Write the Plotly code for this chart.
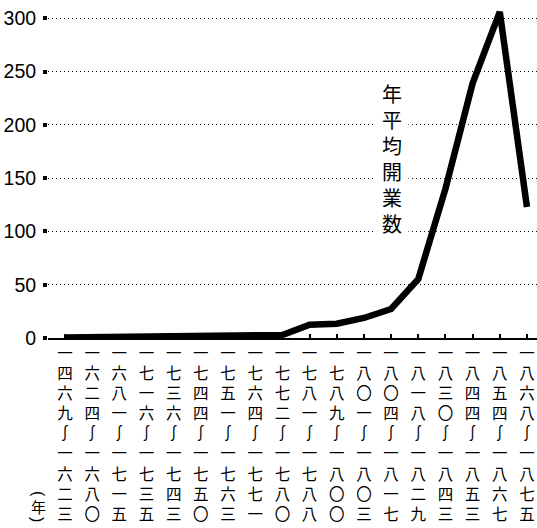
import plotly.graph_objects as go

start_years = ["一四六九", "一六二四", "一六八一", "一七一六", "一七三六", "一七四四",
               "一七五一", "一七六四", "一七七二", "一七八一", "一七八九", "一八〇一",
               "一八〇四", "一八一八", "一八三〇", "一八四四", "一八五四", "一八六八"]
end_years = ["一六二三", "一六八〇", "一七一五", "一七三五", "一七四三", "一七五〇",
             "一七六三", "一七七一", "一七八〇", "一七八八", "一八〇〇", "一八〇三",
             "一八一七", "一八二九", "一八四三", "一八五三", "一八六七", "一八七五"]
avg_openings = [0.5, 0.8, 1, 1, 1.8, 2, 2.7, 3.5, 2.8, 12.5, 13.4, 18.8, 27.2, 55.3,
                140, 239, 306, 123]
y_ticks = [0, 50, 100, 150, 200, 250, 300]
series_label = "年平均開業数"
year_unit = "年"

idx = list(range(len(avg_openings)))
tick_text = ["<br>".join(list(s) + ["∫"] + list(e)) for s, e in zip(start_years, end_years)]

W, H = 537, 528
ML, MR, MT, MB = 48, 0, 0, 190
PW, PH = W - ML - MR, H - MT - MB


def px_x(p):
    return (p - ML) / PW


def px_y(p):
    return 1 - (p - MT) / PH


fig = go.Figure()
fig.add_trace(go.Scatter(
    x=idx, y=avg_openings, mode="lines",
    line=dict(color="black", width=6.5),
    cliponaxis=False, hoverinfo="skip", showlegend=False,
))

cjk = "Noto Sans CJK JP"
fig.update_layout(
    width=W, height=H,
    margin=dict(l=ML, r=MR, t=MT, b=MB, pad=0),
    paper_bgcolor="white", plot_bgcolor="white",
    xaxis=dict(
        range=[-0.625, 17.37], tickmode="array", tickvals=idx, ticktext=tick_text,
        showgrid=False, zeroline=False, showline=True, linecolor="black", linewidth=2,
        ticks="inside", ticklen=4, tickwidth=1.5, tickcolor="black",
        tickfont=dict(family=cjk, size=15.5, color="black"),
        tickangle=0, fixedrange=True,
    ),
    yaxis=dict(
        range=[0, 317.2], tickmode="array", tickvals=y_ticks,
        showgrid=True, gridcolor="#111", gridwidth=1.2, griddash="1px,3px",
        zeroline=False, showline=False,
        ticks="outside", ticklen=4, tickwidth=4, tickcolor="black",
        tickfont=dict(family="Liberation Sans Narrow, Liberation Sans, Arial", size=19.5, color="black"),
        ticklabelstandoff=3, fixedrange=True,
    ),
    annotations=[
        dict(text="<br>".join(series_label), x=12.03, y=168, xref="x", yref="y",
             showarrow=False, bgcolor="white", borderpad=6,
             font=dict(family=cjk, size=20, color="black")),
        dict(text="(", x=px_x(38), y=px_y(494), xref="paper", yref="paper",
             xanchor="center", yanchor="middle", showarrow=False, textangle=90,
             font=dict(family="Liberation Sans", size=16, color="black")),
        dict(text=year_unit, x=px_x(38), y=px_y(506), xref="paper", yref="paper",
             xanchor="center", yanchor="middle", showarrow=False,
             font=dict(family=cjk, size=15, color="black")),
        dict(text=")", x=px_x(38), y=px_y(519), xref="paper", yref="paper",
             xanchor="center", yanchor="middle", showarrow=False, textangle=90,
             font=dict(family="Liberation Sans", size=16, color="black")),
    ],
)

fig.write_html("out.html", config={"displayModeBar": False},
               post_script="document.body.style.margin='0';")
